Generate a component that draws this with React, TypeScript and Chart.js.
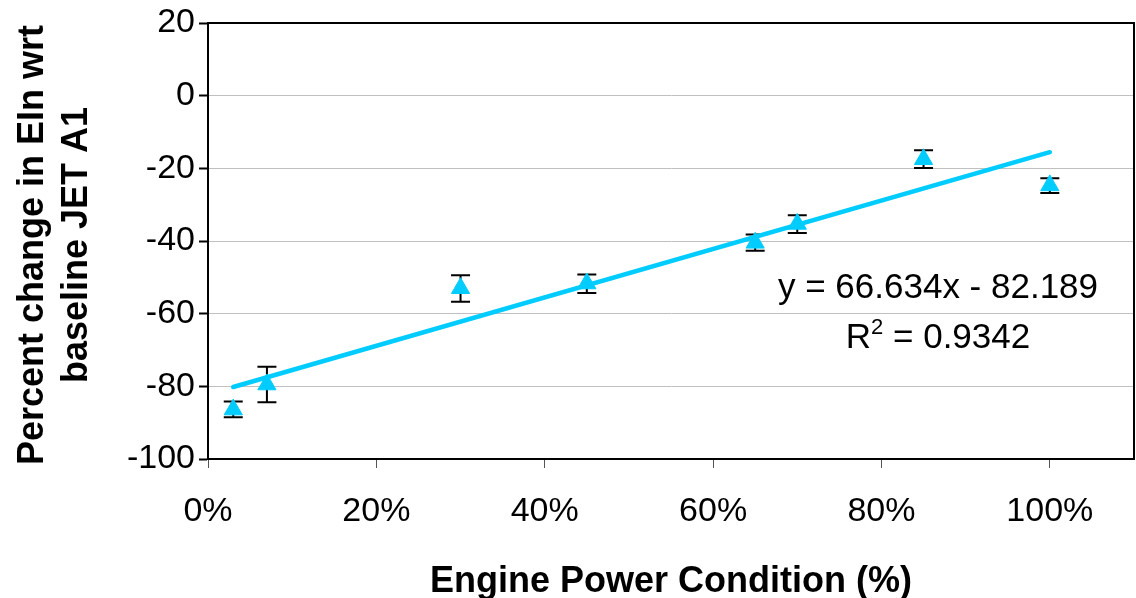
import React, { useEffect, useRef } from "react";
import { Chart, registerables } from "chart.js";

Chart.register(...registerables);

// ---- data ----
const powerLevels = [0.03, 0.07, 0.3, 0.45, 0.65, 0.7, 0.85, 1.0];
const eiChange = [-86.4, -79.5, -53.0, -51.7, -40.5, -35.3, -17.5, -24.7];
const errorLow = [-88.5, -84.4, -56.7, -54.3, -42.7, -37.8, -19.9, -26.8];
const errorHigh = [-84.2, -74.6, -49.4, -49.2, -38.2, -32.9, -15.0, -22.7];
const xTickValues = [0, 0.2, 0.4, 0.6, 0.8, 1.0];
const yTickValues = [-100, -80, -60, -40, -20, 0, 20];
const trendSlope = 66.634;
const trendIntercept = -82.189;
const rSquared = 0.9342;

const xTitle = "Engine Power Condition (%)";
const yTitleLines = ["Percent change in EIn wrt", "baseline JET A1"];

const FONT = '"Liberation Sans", Arial, sans-serif';
const CYAN = "#00CCFF";

const errorBarPlugin = {
  id: "errorBars",
  beforeDatasetsDraw(chart: any) {
    const { ctx, scales } = chart;
    const xs = scales.x;
    const ys = scales.y;
    ctx.save();
    ctx.strokeStyle = "#000";
    ctx.lineWidth = 2;
    const cap = 9.5;
    powerLevels.forEach((p, i) => {
      const px = xs.getPixelForValue(p);
      const lo = ys.getPixelForValue(errorLow[i]);
      const hi = ys.getPixelForValue(errorHigh[i]);
      ctx.beginPath();
      ctx.moveTo(px, lo);
      ctx.lineTo(px, hi);
      ctx.moveTo(px - cap, lo);
      ctx.lineTo(px + cap, lo);
      ctx.moveTo(px - cap, hi);
      ctx.lineTo(px + cap, hi);
      ctx.stroke();
    });
    ctx.restore();
  },
};

const framePlugin = {
  id: "frame",
  afterDraw(chart: any) {
    const { ctx, chartArea: a } = chart;
    ctx.save();
    ctx.strokeStyle = "#000";
    ctx.lineWidth = 2;
    ctx.beginPath();
    ctx.moveTo(a.left, a.top);
    ctx.lineTo(a.right, a.top);
    ctx.lineTo(a.right, a.bottom);
    ctx.stroke();
    ctx.restore();
  },
};

const textPlugin = {
  id: "texts",
  afterDraw(chart: any) {
    const { ctx, chartArea: a } = chart;
    ctx.save();
    ctx.fillStyle = "#000";
    // equation
    const eq = `y = ${trendSlope}x - ${Math.abs(trendIntercept)}`;
    const cx = 938;
    ctx.font = `35px ${FONT}`;
    ctx.textAlign = "center";
    ctx.textBaseline = "alphabetic";
    ctx.fillText(eq, cx, 298);
    // R^2
    ctx.textAlign = "left";
    ctx.font = `35px ${FONT}`;
    const wR = ctx.measureText("R").width;
    const rest = ` = ${rSquared}`;
    const wRest = ctx.measureText(rest).width;
    ctx.font = `22px ${FONT}`;
    const w2 = ctx.measureText("2").width;
    const start = cx - (wR + w2 + wRest) / 2;
    ctx.font = `35px ${FONT}`;
    ctx.fillText("R", start, 348);
    ctx.font = `22px ${FONT}`;
    ctx.fillText("2", start + wR, 334);
    ctx.font = `35px ${FONT}`;
    ctx.fillText(rest, start + wR + w2, 348);

    // x title
    ctx.font = `bold 36px ${FONT}`;
    ctx.textAlign = "center";
    ctx.fillText(xTitle, (a.left + a.right) / 2, 592);

    // y title
    const yc = (a.top + a.bottom) / 2 + 4;
    const baselines = [43, 87];
    yTitleLines.forEach((line, i) => {
      ctx.save();
      ctx.translate(baselines[i], yc);
      ctx.rotate(-Math.PI / 2);
      ctx.fillText(line, 0, 0);
      ctx.restore();
    });
    ctx.restore();
  },
};

export default function App() {
  const canvasRef = useRef<HTMLCanvasElement | null>(null);

  useEffect(() => {
    document.body.style.margin = "0";
    document.body.style.background = "#fff";
    const canvas = canvasRef.current;
    if (!canvas) return;
    const xMin = Math.min(...powerLevels);
    const xMax = Math.max(...powerLevels);
    const trendData = [xMin, xMax].map((x) => ({ x, y: trendSlope * x + trendIntercept }));

    const chart = new Chart(canvas, {
      type: "scatter",
      data: {
        datasets: [
          {
            type: "line",
            label: "Trend",
            data: trendData,
            borderColor: CYAN,
            borderWidth: 4.5,
            pointRadius: 0,
            fill: false,
            borderCapStyle: "round",
            order: 2,
          } as any,
          {
            label: "EIn",
            data: powerLevels.map((x, i) => ({ x, y: eiChange[i] })),
            pointStyle: "triangle",
            pointRadius: 10.5,
            backgroundColor: CYAN,
            borderColor: CYAN,
            borderWidth: 1,
            order: 1,
          },
        ],
      },
      options: {
        responsive: false,
        animation: false,
        devicePixelRatio: 1,
        layout: { autoPadding: false, padding: { top: 23, right: 2, left: 0, bottom: 0 } },
        plugins: {
          legend: { display: false },
          tooltip: { enabled: false },
        },
        scales: {
          x: {
            type: "linear",
            min: 0,
            max: 1.1,
            afterBuildTicks: (scale: any) => {
              scale.ticks = xTickValues.map((v) => ({ value: v }));
            },
            afterFit: (scale: any) => {
              scale.height = 139;
              scale.paddingRight = 0;
              scale.paddingLeft = 0;
            },
            ticks: {
              font: { family: FONT, size: 34 },
              color: "#000",
              padding: 23,
              callback: (v: any) => `${Math.round(Number(v) * 100)}%`,
            },
            grid: {
              drawOnChartArea: false,
              tickLength: 9,
              tickColor: "#555",
              tickWidth: 1,
            },
            border: { color: "#000", width: 2 },
          },
          y: {
            type: "linear",
            min: -100,
            max: 20,
            afterBuildTicks: (scale: any) => {
              scale.ticks = yTickValues.map((v) => ({ value: v }));
            },
            afterFit: (scale: any) => {
              scale.width = 208;
              scale.paddingTop = 0;
              scale.paddingBottom = 0;
            },
            ticks: {
              font: { family: FONT, size: 34 },
              color: "#000",
              padding: 4,
            },
            grid: {
              color: "#C0C0C0",
              lineWidth: 1,
              tickLength: 9,
              tickColor: "#000",
              tickWidth: 2,
            },
            border: { color: "#000", width: 2 },
          },
        },
      },
      plugins: [errorBarPlugin, framePlugin, textPlugin],
    });
    return () => chart.destroy();
  }, []);

  return (
    <canvas
      ref={canvasRef}
      width={1136}
      height={598}
      style={{ display: "block", width: 1136, height: 598 }}
    />
  );
}
